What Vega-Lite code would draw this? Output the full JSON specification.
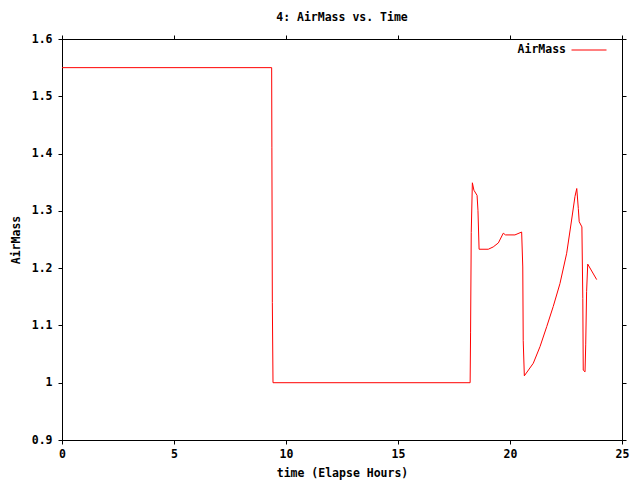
{
  "$schema": "https://vega.github.io/schema/vega-lite/v6.json",
  "autosize": {"type": "none"},
  "padding": {"left": 62, "top": 39, "right": 18, "bottom": 40},
  "width": 560,
  "height": 401,
  "background": "white",
  "title": {"text": "4: AirMass vs. Time", "font": "DejaVu Sans Mono", "fontSize": 11.5, "fontWeight": "bold", "color": "black", "offset": 9},
  "config": {
    "view": {"stroke": "black", "strokeWidth": 1},
    "axis": {"labelFont": "DejaVu Sans Mono", "labelFontSize": 11.5, "labelFontWeight": "bold", "labelColor": "black", "titleFont": "DejaVu Sans Mono", "titleFontSize": 11.5, "titleFontWeight": "bold", "titleColor": "black", "grid": false, "domainColor": "black", "tickColor": "black"},
    "legend": {"labelFont": "DejaVu Sans Mono", "labelFontSize": 11.5, "labelFontWeight": "bold", "labelColor": "black"}
  },
  "data": {"values": [
    {"t": 0, "airmass": 1.55},
    {"t": 9.36, "airmass": 1.55},
    {"t": 9.37, "airmass": 1.41},
    {"t": 9.39, "airmass": 1.14},
    {"t": 9.42, "airmass": 1.0},
    {"t": 18.22, "airmass": 1.0},
    {"t": 18.24, "airmass": 1.087},
    {"t": 18.27, "airmass": 1.262},
    {"t": 18.32, "airmass": 1.349},
    {"t": 18.39, "airmass": 1.336},
    {"t": 18.53, "airmass": 1.327},
    {"t": 18.57, "airmass": 1.301},
    {"t": 18.62, "airmass": 1.233},
    {"t": 19.03, "airmass": 1.233},
    {"t": 19.25, "airmass": 1.237},
    {"t": 19.48, "airmass": 1.244},
    {"t": 19.7, "airmass": 1.261},
    {"t": 19.8, "airmass": 1.258},
    {"t": 20.22, "airmass": 1.258},
    {"t": 20.52, "airmass": 1.263},
    {"t": 20.57, "airmass": 1.202},
    {"t": 20.59, "airmass": 1.074},
    {"t": 20.64, "airmass": 1.012},
    {"t": 21.04, "airmass": 1.034},
    {"t": 21.34, "airmass": 1.063},
    {"t": 21.64, "airmass": 1.098},
    {"t": 21.93, "airmass": 1.133},
    {"t": 22.23, "airmass": 1.173},
    {"t": 22.53, "airmass": 1.226},
    {"t": 22.75, "airmass": 1.284},
    {"t": 22.9, "airmass": 1.325},
    {"t": 22.98, "airmass": 1.339},
    {"t": 23.05, "airmass": 1.304},
    {"t": 23.09, "airmass": 1.281},
    {"t": 23.21, "airmass": 1.272},
    {"t": 23.25, "airmass": 1.147},
    {"t": 23.27, "airmass": 1.022},
    {"t": 23.35, "airmass": 1.019},
    {"t": 23.38, "airmass": 1.066},
    {"t": 23.42, "airmass": 1.159},
    {"t": 23.47, "airmass": 1.207},
    {"t": 23.87, "airmass": 1.18}
  ]},
  "resolve": {"axis": {"x": "independent", "y": "independent"}},
  "layer": [
    {
      "mark": {"type": "line", "strokeWidth": 1, "interpolate": "linear"},
      "encoding": {
        "x": {"field": "t", "type": "quantitative", "scale": {"domain": [0, 25], "nice": false, "zero": false},
              "axis": {"orient": "bottom", "title": "time (Elapse Hours)", "values": [0, 5, 10, 15, 20, 25], "format": "d", "tickSize": 4, "labelPadding": 4, "titlePadding": 8, "labelFlush": false}},
        "y": {"field": "airmass", "type": "quantitative", "scale": {"domain": [0.9, 1.6], "nice": false, "zero": false},
              "axis": {"orient": "left", "title": "AirMass", "values": [0.9, 1, 1.1, 1.2, 1.3, 1.4, 1.5, 1.6], "format": "~g", "tickSize": 4, "labelPadding": 6, "titlePadding": 10, "labelFlush": false}},
        "color": {"datum": "AirMass", "type": "nominal", "scale": {"range": ["#ff0000"]},
                  "legend": {"title": null, "orient": "none", "legendX": 509, "legendY": -7, "symbolType": "stroke", "symbolSize": 1225, "symbolStrokeWidth": 1, "labelAlign": "right", "labelOffset": -41}}
      }
    },
    {
      "mark": {"type": "line", "strokeOpacity": 0},
      "encoding": {
        "x": {"field": "t", "type": "quantitative", "scale": {"domain": [0, 25], "nice": false, "zero": false},
              "axis": {"orient": "top", "title": null, "labels": false, "tickSize": 4, "values": [0, 5, 10, 15, 20, 25]}},
        "y": {"field": "airmass", "type": "quantitative", "scale": {"domain": [0.9, 1.6], "nice": false, "zero": false},
              "axis": {"orient": "right", "title": null, "labels": false, "tickSize": 4, "values": [0.9, 1, 1.1, 1.2, 1.3, 1.4, 1.5, 1.6]}}
      }
    }
  ]
}
